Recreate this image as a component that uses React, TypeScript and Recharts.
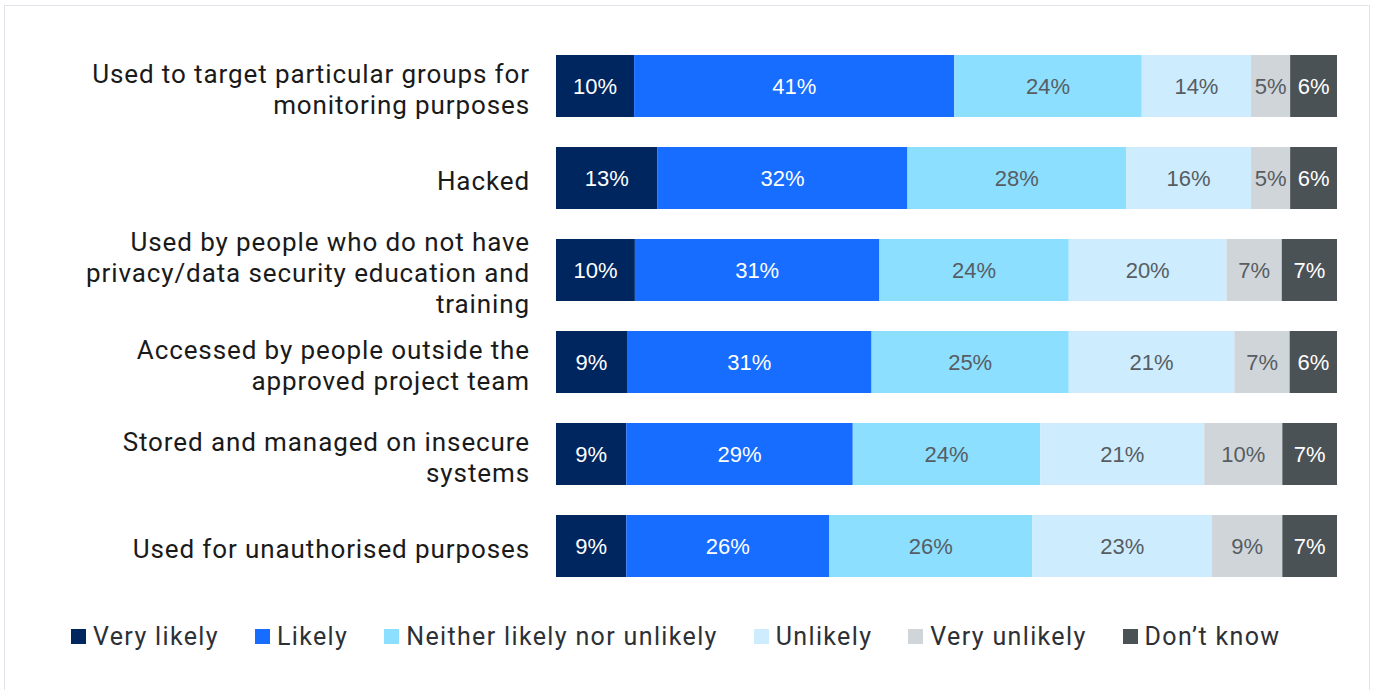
import React from 'react';
import { BarChart, Bar, XAxis, YAxis, Legend, LabelList } from 'recharts';

const categories = [
  'Used to target particular groups for\nmonitoring purposes',
  'Hacked',
  'Used by people who do not have\nprivacy/data security education and\ntraining',
  'Accessed by people outside the\napproved project team',
  'Stored and managed on insecure\nsystems',
  'Used for unauthorised purposes',
];

const veryLikely = [10, 13, 10, 9, 9, 9];
const likely = [41, 32, 31, 31, 29, 26];
const neither = [24, 28, 24, 25, 24, 26];
const unlikely = [14, 16, 20, 21, 21, 23];
const veryUnlikely = [5, 5, 7, 7, 10, 9];
const dontKnow = [6, 6, 7, 6, 7, 7];

const series = [
  { key: 'veryLikely', name: 'Very likely', values: veryLikely, color: '#00265f', text: '#ffffff' },
  { key: 'likely', name: 'Likely', values: likely, color: '#166dff', text: '#ffffff' },
  { key: 'neither', name: 'Neither likely nor unlikely', values: neither, color: '#8cdfff', text: '#575d63' },
  { key: 'unlikely', name: 'Unlikely', values: unlikely, color: '#cdecfd', text: '#575d63' },
  { key: 'veryUnlikely', name: 'Very unlikely', values: veryUnlikely, color: '#d0d5d9', text: '#575d63' },
  { key: 'dontKnow', name: 'Don\u2019t know', values: dontKnow, color: '#4b5256', text: '#ffffff' },
];

const data = categories.map((name, i) => {
  const row: Record<string, string | number> = { name };
  series.forEach((s) => {
    row[s.key] = s.values[i];
  });
  return row;
});

const CategoryTick = (props: any) => {
  const { x, y, payload } = props;
  const lines = String(payload.value).split('\n');
  const lineH = 31;
  const start = y - ((lines.length - 1) * lineH) / 2 + 12;
  return (
    <text
      x={x}
      y={start}
      textAnchor="end"
      fill="#1a1a1a"
      fontSize={26}
      letterSpacing={0.9}
      fontFamily="Roboto, sans-serif"
    >
      {lines.map((line, i) => (
        <tspan key={i} x={x} y={start + i * lineH}>
          {line}
        </tspan>
      ))}
    </text>
  );
};

const LegendContent = () => (
  <div
    style={{
      display: 'flex',
      alignItems: 'center',
      paddingTop: 29,
      paddingLeft: 71,
      height: 31,
      fontFamily: 'Roboto, sans-serif',
      fontSize: 25,
      letterSpacing: 1.35,
      color: '#2d3035',
    }}
  >
    {series.map((s) => (
      <div key={s.key} style={{ display: 'flex', alignItems: 'center', marginRight: 36 }}>
        <span style={{ width: 15, height: 15, background: s.color, marginRight: 7, display: 'inline-block' }} />
        <span style={{ lineHeight: '23px' }}>{s.name}</span>
      </div>
    ))}
  </div>
);

const App: React.FC = () => {
  return (
    <div style={{ position: 'absolute', left: 0, top: 0, width: 1375, height: 690, background: '#fff' }}>
      <div
        style={{
          position: 'absolute',
          left: 4,
          top: 5,
          width: 1366,
          height: 700,
          border: '1.5px solid #e1e5ea',
          boxSizing: 'border-box',
        }}
      />
      <BarChart
        width={1375}
        height={690}
        data={data}
        layout="vertical"
        stackOffset="expand"
        margin={{ top: 40, right: 38, bottom: 38, left: 0 }}
      >
        <XAxis type="number" hide domain={[0, 1]} />
        <YAxis
          type="category"
          dataKey="name"
          width={556}
          axisLine={false}
          tickLine={false}
          tickSize={6}
          tickMargin={20}
          tick={<CategoryTick />}
        />
        <Legend verticalAlign="bottom" align="left" content={<LegendContent />} />
        {series.map((s) => (
          <Bar key={s.key} dataKey={s.key} name={s.name} stackId="a" fill={s.color} barSize={62} isAnimationActive={false}>
            <LabelList
              dataKey={s.key}
              position="center"
              fill={s.text}
              fontSize={22}
              fontFamily="'Liberation Sans', Arial, sans-serif"
              formatter={(v: any) => `${v}%`}
            />
          </Bar>
        ))}
      </BarChart>
    </div>
  );
};

export default App;
